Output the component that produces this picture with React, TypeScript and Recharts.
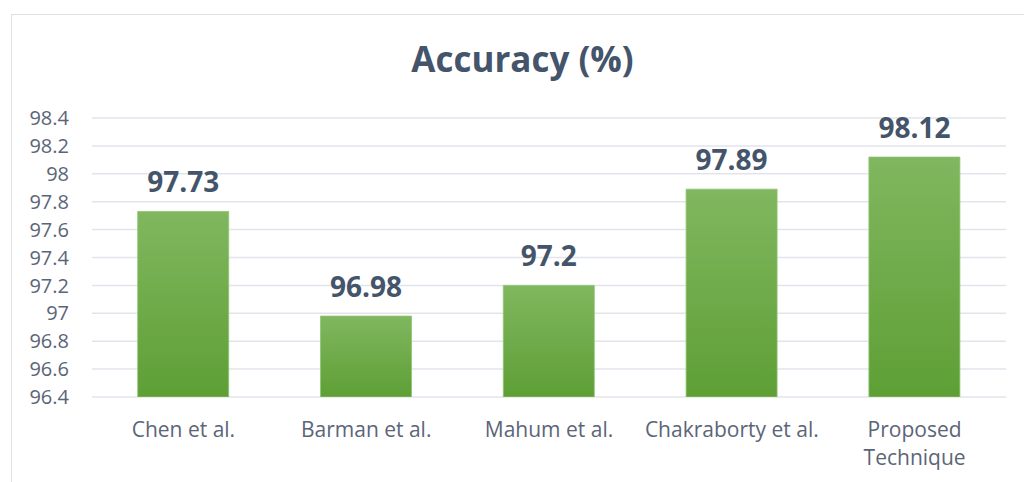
import { BarChart, Bar, XAxis, YAxis, CartesianGrid, LabelList } from "recharts";

const categories = ["Chen et al.", "Barman et al.", "Mahum et al.", "Chakraborty et al.", "Proposed\nTechnique"];
const accuracy = [97.73, 96.98, 97.2, 97.89, 98.12];
const yTicks = [96.4, 96.6, 96.8, 97, 97.2, 97.4, 97.6, 97.8, 98, 98.2, 98.4];

const rows = categories.map((name, i) => ({ name, accuracy: accuracy[i] }));

const FONT = "'Open Sans', 'Noto Sans', sans-serif";
const SLATE = "#44546A";
const AXIS_TEXT = "#5b6577";

function CategoryTick({ x, y, payload }: any) {
  const lines = String(payload.value).split("\n");
  return (
    <text x={x} y={y} textAnchor="middle" fill={AXIS_TEXT} fontSize={21} fontFamily={FONT}>
      {lines.map((l, i) => (
        <tspan key={i} x={x} dy={i === 0 ? 40 : 28}>{l}</tspan>
      ))}
    </text>
  );
}

export default function App() {
  return (
    <div style={{ position: "absolute", left: 0, top: 0, width: 1024, height: 482, overflow: "hidden", background: "#fff" }}>
      <div style={{ position: "absolute", left: 11, top: 14, width: 1100, height: 600, border: "1px solid #dde1e7" }} />
      <div
        style={{
          position: "absolute", left: 11, top: 34, width: 1023, textAlign: "center",
          fontFamily: FONT, fontWeight: 700, fontSize: 35, lineHeight: "50px", color: SLATE,
        }}
      >
        Accuracy (%)
      </div>
      <div style={{ position: "absolute", left: 0, top: 0 }}>
        <BarChart width={1024} height={482} data={rows} margin={{ top: 118, right: 18, bottom: 0, left: 0 }} barCategoryGap="25%">
          <defs>
            <linearGradient id="greenBar" x1="0" y1="0" x2="0" y2="1">
              <stop offset="0%" stopColor="#80b75f" />
              <stop offset="100%" stopColor="#5e9f35" />
            </linearGradient>
          </defs>
          <CartesianGrid vertical={false} stroke="#e1e5eb" strokeWidth={1.5} />
          <XAxis
            dataKey="name" axisLine={false} tickLine={false} tickSize={0} tickMargin={0}
            height={85} interval={0} tick={<CategoryTick />}
          />
          <YAxis
            domain={[96.4, 98.4]} ticks={yTicks} interval={0} width={92} axisLine={false} tickLine={false}
            tickSize={0} tickMargin={23} allowDataOverflow
            tick={{ fill: AXIS_TEXT, fontSize: 20, fontFamily: FONT }}
          />
          <Bar dataKey="accuracy" fill="url(#greenBar)" stroke="#8fc470" strokeWidth={0.8} isAnimationActive={false}>
            <LabelList
              dataKey="accuracy" position="top" offset={19}
              style={{ fill: SLATE, fontSize: 28, fontWeight: 700, fontFamily: FONT }}
            />
          </Bar>
        </BarChart>
      </div>
    </div>
  );
}
